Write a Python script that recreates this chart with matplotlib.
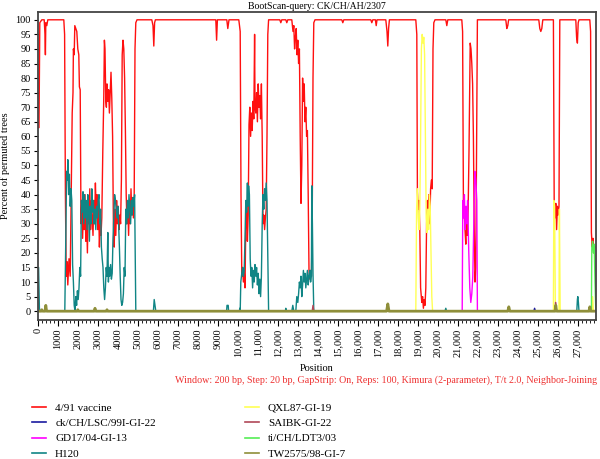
import matplotlib
matplotlib.use("Agg")
import matplotlib.pyplot as plt
from matplotlib.ticker import MultipleLocator, FuncFormatter

plt.rcParams['font.family'] = ['Liberation Serif', 'DejaVu Serif']

# ---- data (position, percent) ----
red_pos = [0, 60, 100, 200, 320, 360, 380, 400, 450, 500, 1300, 1340, 1380, 1420, 1460, 1500, 1560, 1620,
           1680, 1720, 1760, 1780, 1820, 1850, 1900, 1950, 2000, 2050, 2080, 2120, 2160, 2200, 2240, 2280,
           2320, 2360, 2400, 2440, 2480, 2520, 2560, 2600, 2640, 2680, 2720, 2760, 2800, 2840, 2880, 2920,
           2960, 3000, 3040, 3080, 3120, 3160, 3200, 3250, 3300, 3330, 3360, 3400, 3430, 3460, 3500, 3540,
           3580, 3620, 3660, 3700, 3740, 3780, 3820, 3860, 3900, 3940, 3980, 4020, 4060, 4100, 4140, 4180,
           4220, 4260, 4300, 4340, 4380, 4420, 4460, 4500, 4540, 4580, 4620, 4660, 4700, 4740, 4780, 4820,
           4860, 4900, 4960, 5700, 5760, 5800, 5840, 5880, 8900, 8940, 8980, 9450, 9500, 9560, 10050, 10120,
           10160, 10200, 10240, 10280, 10320, 10360, 10400, 10440, 10480, 10520, 10560, 10600, 10640, 10680,
           10720, 10760, 10800, 10840, 10860, 10900, 10940, 10980, 11020, 11060, 11100, 11140, 11180, 11220,
           11260, 11300, 11340, 11380, 11420, 11460, 11500, 11540, 12100, 12150, 12200, 12400, 12450, 12500,
           12700, 12760, 12800, 12840, 12880, 12920, 12960, 13000, 13040, 13080, 13120, 13160, 13200, 13240,
           13280, 13320, 13360, 13400, 13440, 13480, 13520, 13560, 13600, 13640, 13680, 13720, 13760, 13800,
           13860, 15200, 15250, 15300, 16650, 16700, 16750, 16880, 16920, 16960, 17400, 17460, 17500, 17540,
           17580, 18900, 18950, 18980, 19020, 19060, 19100, 19140, 19200, 19240, 19280, 19320, 19360, 19400,
           19440, 19480, 19520, 19560, 19600, 19640, 19680, 19720, 19760, 19800, 19860, 20400, 20450, 20500,
           21200, 21240, 21280, 21320, 21360, 21400, 21440, 21480, 21520, 21560, 21620, 21660, 21700, 21740,
           21780, 21820, 21860, 21900, 21940, 21980, 23400, 23450, 23500, 23540, 25050, 25100, 25150, 25200,
           25250, 25780, 25820, 25860, 25900, 25940, 25980, 26020, 26060, 26100, 26900, 26940, 26980, 27020,
           27060, 27600, 27640, 27680, 27720, 27760, 27800, 27850]
red_val = [63, 63, 99, 100, 100, 95, 88, 99, 98, 100, 100, 95, 40, 12, 17, 9, 18, 12,
           45, 68, 75, 90, 88, 98, 97, 96, 90, 88, 77, 76, 30, 38, 25, 35,
           28, 40, 24, 33, 20, 36, 30, 42, 28, 38, 32, 26, 38, 30, 44, 34,
           40, 28, 36, 22, 30, 26, 32, 55, 74, 93, 90, 72, 70, 78, 72, 76,
           68, 75, 82, 73, 60, 30, 22, 35, 26, 38, 30, 36, 28, 33, 30, 45,
           88, 93, 90, 80, 62, 40, 30, 36, 26, 38, 30, 42, 33, 39, 32, 40,
           90, 99, 100, 100, 98, 91, 99, 100, 100, 93, 100, 100, 97, 100, 100, 96,
           40, 12, 15, 10, 14, 8, 30, 38, 24, 33, 64, 70, 60, 68,
           62, 72, 66, 95, 70, 68, 75, 65, 78, 70, 74, 66, 78, 60,
           30, 33, 28, 32, 35, 60, 95, 100, 100, 99, 100, 100, 99, 100,
           100, 96, 98, 90, 94, 97, 88, 93, 85, 90, 60, 37, 50, 80,
           72, 78, 65, 70, 60, 62, 40, 14, 11, 14, 12, 30, 80, 99,
           100, 100, 99, 100, 100, 99, 100, 100, 98, 100, 100, 96, 91, 97,
           100, 100, 95, 41, 35, 38, 28, 8, 3, 5, 1, 4, 2, 8,
           30, 38, 35, 40, 30, 42, 45, 42, 90, 99, 100, 100, 98, 100,
           100, 96, 38, 35, 28, 23, 33, 26, 36, 55, 92, 90, 85, 78,
           60, 30, 10, 15, 60, 100, 100, 97, 98, 100, 100, 97, 96, 97,
           100, 100, 37, 32, 37, 28, 36, 33, 36, 100, 100, 94, 92, 99,
           100, 100, 96, 27, 22, 25, 20, 22]

h120_pos = [0, 40, 80, 120, 1350, 1400, 1440, 1480, 1500, 1540, 1580, 1620, 1660, 1700, 1740, 1780, 1820,
            1860, 1900, 1940, 1980, 2020, 2060, 2100, 2140, 2180, 2220, 2260, 2300, 2340, 2380, 2420, 2460,
            2500, 2540, 2580, 2620, 2660, 2700, 2740, 2780, 2820, 2860, 2900, 2940, 2980, 3020, 3060, 3100,
            3140, 3180, 3220, 3260, 3300, 3340, 3380, 3420, 3460, 3500, 3530, 3560, 3600, 3640, 3680, 3720,
            3760, 3800, 3840, 3880, 3920, 3960, 4000, 4040, 4080, 4120, 4160, 4200, 4240, 4280, 4320, 4360,
            4400, 4440, 4480, 4520, 4560, 4600, 4640, 4680, 4720, 4760, 4800, 4840, 4870, 4900, 5780, 5820,
            5860, 5900, 9440, 9460, 9520, 9540, 10080, 10100, 10120, 10150, 10200, 10240, 10280, 10320, 10360,
            10400, 10440, 10480, 10500, 10540, 10580, 10620, 10660, 10700, 10740, 10780, 10820, 10860, 10900,
            10940, 10980, 11020, 11060, 11100, 11140, 11180, 11220, 11260, 11300, 11340, 11380, 11420, 11460,
            11500, 11540, 12380, 12400, 12420, 12700, 12750, 12800, 12900, 12950, 13000, 13040, 13080, 13120,
            13160, 13200, 13240, 13280, 13320, 13360, 13400, 13440, 13480, 13520, 13560, 13600, 13640, 13680,
            13700, 13730, 13760, 13800, 20360, 20400, 20440, 26950, 26980, 27000, 27030, 27060, 27900]
h120_val = [15, 15, 1, 0, 0, 25, 48, 45, 52, 40, 47, 36, 42, 38, 16, 10, 2,
            0, 5, 2, 7, 4, 8, 15, 12, 38, 34, 41, 30, 40, 32, 38, 28,
            40, 35, 24, 36, 30, 42, 34, 38, 30, 35, 28, 36, 32, 38, 40, 30,
            35, 22, 18, 15, 8, 4, 8, 15, 12, 27, 10, 15, 12, 16, 11, 13,
            25, 32, 40, 38, 35, 32, 36, 30, 22, 12, 4, 2, 3, 6, 15, 12,
            35, 30, 38, 32, 40, 35, 30, 38, 33, 39, 36, 40, 20, 0, 0, 4,
            2, 0, 0, 2, 2, 0, 0, 1, 0, 10, 13, 15, 12, 14, 25,
            38, 34, 44, 36, 43, 40, 18, 12, 15, 8, 14, 10, 16, 12,
            15, 9, 13, 6, 11, 5, 12, 30, 40, 35, 42, 38, 44, 38,
            20, 0, 0, 1, 0, 0, 2, 0, 0, 5, 3, 6, 10, 8,
            12, 5, 9, 14, 10, 13, 8, 11, 14, 9, 12, 14, 10, 12,
            43, 30, 13, 0, 0, 1, 0, 0, 4, 5, 3, 0, 0]

qxl_pos = [0, 18900, 18940, 18980, 19020, 19060, 19100, 19140, 19180, 19220, 19260, 19300, 19340, 19380,
           19420, 19460, 19500, 19540, 19580, 19620, 19660, 19700, 19740, 25780, 25800, 25840, 25880, 26060,
           26080, 26120, 27700, 27740, 27780, 27900]
qxl_val = [0, 0, 35, 42, 32, 28, 35, 60, 90, 95, 92, 94, 88, 60,
           32, 27, 35, 28, 40, 36, 20, 5, 0, 0, 38, 36, 0, 0,
           35, 0, 0, 5, 0, 0]

gd17_pos = [0, 21220, 21250, 21290, 21330, 21370, 21410, 21450, 21490, 21550, 21600, 21650, 21700, 21750,
            21800, 21850, 21900, 21950, 21980, 27900]
gd17_val = [0, 0, 38, 32, 40, 28, 36, 30, 38, 20, 8, 3, 6, 12,
            30, 48, 45, 38, 0, 0]

ldt3_pos = [0, 27680, 27700, 27740, 27780, 27820, 27860, 27900]
ldt3_val = [0, 0, 22, 24, 20, 23, 10, 0]

lsc_pos = [0, 24800, 24840, 24880, 25880, 25900, 25940, 27900]
lsc_val = [0, 0, 1, 0, 0, 2, 0, 0]

saibk_pos = [0, 13720, 13760, 13800, 25860, 25890, 25920, 27900]
saibk_val = [0, 0, 2, 0, 0, 3, 0, 0]

tw_pos = [0, 160, 200, 240, 360, 400, 440, 1960, 2000, 2040, 2820, 2860, 2900, 3420, 3460, 3500,
          17440, 17500, 17560, 23500, 23550, 23600, 25860, 25900, 25940, 27560, 27600, 27640, 27900]
tw_val = [0, 0, 0.5, 0, 0, 2, 0, 0, 0.5, 0, 0, 1, 0, 0, 0.5, 0,
          0, 2.5, 0, 0, 1.5, 0, 0, 2, 0, 0, 1.5, 0, 0]

labels = ['4/91 vaccine', 'ck/CH/LSC/99I-GI-22', 'GD17/04-GI-13', 'H120',
          'QXL87-GI-19', 'SAIBK-GI-22', 'ti/CH/LDT3/03', 'TW2575/98-GI-7']

fig = plt.figure(figsize=(6, 4.59), dpi=100)
ax = fig.add_axes([0.063, 0.303, 0.930, 0.671])

l_red, = ax.plot(red_pos, red_val, color='#ff1010', lw=1.0)
l_lsc, = ax.plot(lsc_pos, lsc_val, color='#1a1aa0', lw=1.0)
l_gd, = ax.plot(gd17_pos, gd17_val, color='#ff00ff', lw=1.0)
l_h120, = ax.plot(h120_pos, h120_val, color='#108585', lw=1.0)
l_qxl, = ax.plot(qxl_pos, qxl_val, color='#ffff55', lw=1.0)
l_saibk, = ax.plot(saibk_pos, saibk_val, color='#b04858', lw=1.0)
l_ldt, = ax.plot(ldt3_pos, ldt3_val, color='#55ee55', lw=1.0)
l_tw, = ax.plot(tw_pos, tw_val, color='#8f8f3a', lw=2.0)

ax.set_xlim(0, 27900)
ax.set_ylim(-3, 102.7)
ax.yaxis.set_major_locator(MultipleLocator(5))
ax.xaxis.set_major_locator(MultipleLocator(1000))
ax.xaxis.set_minor_locator(MultipleLocator(200))
ax.xaxis.set_major_formatter(FuncFormatter(
    lambda v, p: f"{int(v):,}" if v >= 10000 else f"{int(v)}"))
ax.tick_params(axis='x', labelrotation=90, labelsize=7.5, length=4, pad=2)
ax.tick_params(axis='x', which='minor', length=2.5)
ax.tick_params(axis='y', labelsize=7.5, length=3, pad=2)
for s in ax.spines.values():
    s.set_color('#444444')
    s.set_linewidth(1.3)

ax.set_title('BootScan-query: CK/CH/AH/2307', fontsize=7, pad=2)
ax.set_ylabel('Percent of permuted trees', fontsize=7.5)
ax.yaxis.set_label_coords(-0.05, 0.5)
ax.set_xlabel('Position', fontsize=7.5, labelpad=5)

fig.text(0.995, 0.172, 'Window: 200 bp, Step: 20 bp, GapStrip: On, Reps: 100, Kimura (2-parameter), '
         'T/t 2.0, Neighbor-Joining', color='#ee3030', fontsize=7.2, ha='right', va='center')

handles = [l_red, l_lsc, l_gd, l_h120, l_qxl, l_saibk, l_ldt, l_tw]
leg = fig.legend(handles, labels, ncol=2, loc='upper left', bbox_to_anchor=(0.053, 0.122),
                 frameon=False, fontsize=8, handlelength=1.3, handletextpad=0.8,
                 labelspacing=0.5, columnspacing=8.0, borderaxespad=0, borderpad=0)
for h in leg.legend_handles:
    h.set_linewidth(1.2)

fig.savefig('out.png', dpi=100)
